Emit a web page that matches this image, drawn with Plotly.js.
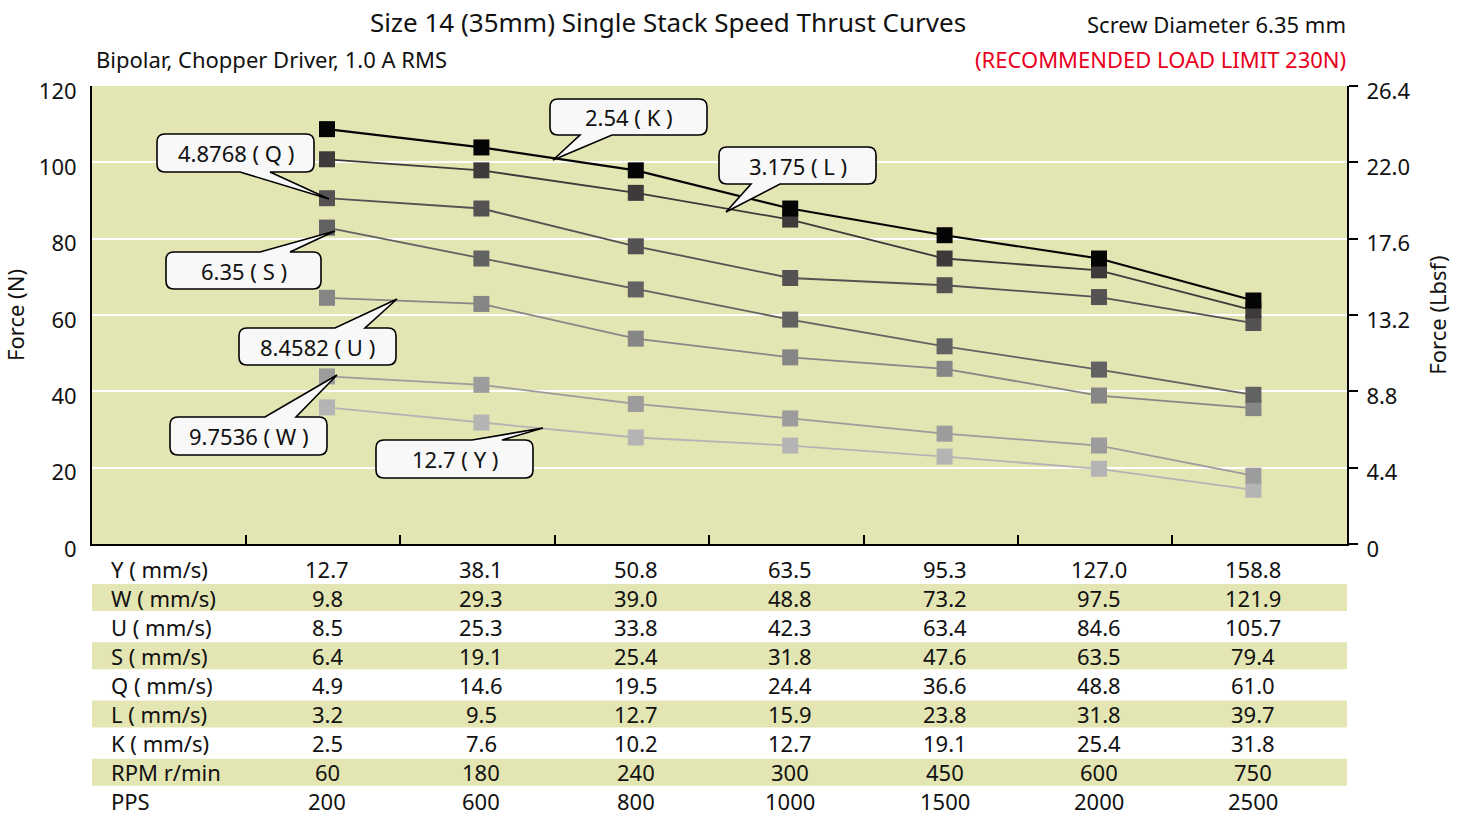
<!DOCTYPE html>
<html>
<head>
<meta charset="utf-8">
<script src="https://cdn.plot.ly/plotly-3.0.1.min.js"></script>
<style>html,body{margin:0;padding:0;background:#fff;}#chart{width:1458px;height:816px;}</style>
</head>
<body>
<div id="chart"></div>
<script>
// ---------- DATA ----------
const pps = [200, 600, 800, 1000, 1500, 2000, 2500];
const rpm = [60, 180, 240, 300, 450, 600, 750];

const speedY = [12.7, 38.1, 50.8, 63.5, 95.3, 127.0, 158.8];
const speedW = [9.8, 29.3, 39.0, 48.8, 73.2, 97.5, 121.9];
const speedU = [8.5, 25.3, 33.8, 42.3, 63.4, 84.6, 105.7];
const speedS = [6.4, 19.1, 25.4, 31.8, 47.6, 63.5, 79.4];
const speedQ = [4.9, 14.6, 19.5, 24.4, 36.6, 48.8, 61.0];
const speedL = [3.2, 9.5, 12.7, 15.9, 23.8, 31.8, 39.7];
const speedK = [2.5, 7.6, 10.2, 12.7, 19.1, 25.4, 31.8];

const forceK = [108.7, 103.9, 97.9, 87.9, 80.9, 74.8, 63.8];
const forceL = [100.8, 97.9, 92.0, 85.0, 74.8, 71.7, 61.2];
const forceQ = [90.6, 87.9, 78.0, 69.7, 67.8, 64.7, 57.9];
const forceS = [82.9, 74.8, 66.7, 58.8, 51.8, 45.7, 39.1];
const forceU = [64.5, 62.9, 53.8, 48.9, 45.9, 38.9, 35.6];
const forceW = [43.9, 41.7, 36.7, 32.9, 28.9, 25.8, 17.9];
const forceY = [35.8, 31.8, 27.9, 25.8, 22.9, 19.7, 14.2];

const seriesNames = ['Y', 'W', 'U', 'S', 'Q', 'L', 'K'];
const leadLabels = ['12.7 ( Y )', '9.7536 ( W )', '8.4582 ( U )', '6.35 ( S )', '4.8768 ( Q )', '3.175 ( L )', '2.54 ( K )'];
const rowLabels = ['Y ( mm/s)', 'W ( mm/s)', 'U ( mm/s)', 'S ( mm/s)', 'Q ( mm/s)', 'L ( mm/s)', 'K ( mm/s)', 'RPM r/min', 'PPS'];
const leftTicks = [0, 20, 40, 60, 80, 100, 120];
const rightTickVals = [0, 4.4, 8.8, 13.2, 17.6, 22.0, 26.4];
const rightTicks = ['0', '4.4', '8.8', '13.2', '17.6', '22.0', '26.4'];

// ---------- STYLE / LAYOUT HELPERS ----------
const FONT = 'Noto Sans, Open Sans, sans-serif';
const FS = 22;
const L0 = 92, R0 = 1347, T0 = 86, B0 = 544;
const PW = R0 - L0, PH = B0 - T0;
const px = x => ((x - L0) / PW).toFixed(5);
const py = y => ((B0 - y) / PH).toFixed(5);
const pxn = x => (x - L0) / PW;
const pyn = y => (B0 - y) / PH;

const xIdx = pps.map((_, i) => i);
const forces = {Y: forceY, W: forceW, U: forceU, S: forceS, Q: forceQ, L: forceL, K: forceK};
const colors = {Y: '#b4b4b4', W: '#9c9c9c', U: '#868686', S: '#626262', Q: '#545252', L: '#3e3a3a', K: '#050505'};
const widths = {Y: 1.8, W: 1.8, U: 1.8, S: 1.8, Q: 1.8, L: 1.8, K: 2.2};

const traces = seriesNames.map(n => ({
  type: 'scatter', mode: 'lines+markers', name: n,
  x: xIdx, y: forces[n],
  line: {color: colors[n], width: widths[n]},
  marker: {symbol: 'square', size: 16, color: colors[n]},
  hoverinfo: 'skip', showlegend: false
}));
traces.push({type: 'scatter', x: [], y: [], yaxis: 'y2', showlegend: false, hoverinfo: 'skip'});

// callout bubbles (pixel geometry)
const callouts = [
  {box: [376, 440, 533, 478], side: 'top', a: 472, b: 502, tip: [543, 428]},
  {box: [170, 417, 327, 455], side: 'top', a: 265, b: 296, tip: [337, 375]},
  {box: [239, 328, 396, 365], side: 'top', a: 335, b: 365, tip: [397, 299]},
  {box: [166, 252, 321, 289], side: 'top', a: 260, b: 290, tip: [335, 231]},
  {box: [157, 134, 314, 172], side: 'bottom', a: 240, b: 270, tip: [329, 199]},
  {box: [719, 147, 876, 184], side: 'bottom', a: 751, b: 780, tip: [726, 212]},
  {box: [550, 99, 707, 135], side: 'bottom', a: 580, b: 612, tip: [553, 160]}
];
function bubble(c) {
  const [x0, y0, x1, y1] = c.box; const r = 8;
  let p = `M${px(x0 + r)},${py(y0)}`;
  if (c.side === 'top') p += ` L${px(c.a)},${py(y0)} L${px(c.tip[0])},${py(c.tip[1])} L${px(c.b)},${py(y0)}`;
  p += ` L${px(x1 - r)},${py(y0)} Q${px(x1)},${py(y0)} ${px(x1)},${py(y0 + r)}`;
  p += ` L${px(x1)},${py(y1 - r)} Q${px(x1)},${py(y1)} ${px(x1 - r)},${py(y1)}`;
  if (c.side === 'bottom') p += ` L${px(c.b)},${py(y1)} L${px(c.tip[0])},${py(c.tip[1])} L${px(c.a)},${py(y1)}`;
  p += ` L${px(x0 + r)},${py(y1)} Q${px(x0)},${py(y1)} ${px(x0)},${py(y1 - r)}`;
  p += ` L${px(x0)},${py(y0 + r)} Q${px(x0)},${py(y0)} ${px(x0 + r)},${py(y0)} Z`;
  return p;
}

const shapes = [];
const annotations = [];

callouts.forEach((c, i) => {
  shapes.push({type: 'path', xref: 'paper', yref: 'paper', path: bubble(c),
    fillcolor: '#f8f8f8', line: {color: '#000', width: 1.6}, layer: 'above'});
  annotations.push({xref: 'paper', yref: 'paper', x: pxn((c.box[0] + c.box[2]) / 2), y: pyn((c.box[1] + c.box[3]) / 2),
    text: leadLabels[i], showarrow: false, xanchor: 'center', yanchor: 'middle',
    font: {family: FONT, size: FS, color: '#111'}});
});

// table below the plot
const tableRows = [speedY, speedW, speedU, speedS, speedQ, speedL, speedK, rpm, pps];
const rowY0 = 568.5, rowStep = 29.1;
tableRows.forEach((row, r) => {
  const cy = rowY0 + r * rowStep;
  if (r % 2 === 1) {
    shapes.push({type: 'rect', xref: 'paper', yref: 'paper', x0: 0, x1: 1,
      y0: pyn(cy - 13.5), y1: pyn(cy + 13.5), fillcolor: '#e3e5b3', line: {width: 0}, layer: 'below'});
  }
  annotations.push({xref: 'paper', yref: 'paper', x: pxn(109), y: pyn(cy), text: rowLabels[r], height: 26,
    showarrow: false, xanchor: 'left', yanchor: 'middle', font: {family: FONT, size: FS, color: '#111'}});
  row.forEach((v, j) => {
    const t = r < 7 ? v.toFixed(1) : String(v);
    annotations.push({xref: 'x', yref: 'paper', x: xIdx[j], y: pyn(cy), text: t, height: 26,
      showarrow: false, xanchor: 'center', yanchor: 'middle', font: {family: FONT, size: FS, color: '#111'}});
  });
});

// header texts
annotations.push({xref: 'paper', yref: 'paper', x: pxn(94), y: pyn(59), text: 'Bipolar, Chopper Driver, 1.0 A RMS',
  showarrow: false, xanchor: 'left', yanchor: 'middle', font: {family: FONT, size: FS, color: '#111'}});
annotations.push({xref: 'paper', yref: 'paper', x: pxn(1348), y: pyn(24), text: 'Screw Diameter 6.35 mm',
  showarrow: false, xanchor: 'right', yanchor: 'middle', font: {family: FONT, size: FS, color: '#111'}});
annotations.push({xref: 'paper', yref: 'paper', x: pxn(1348), y: pyn(59), text: '(RECOMMENDED LOAD LIMIT 230N)',
  showarrow: false, xanchor: 'right', yanchor: 'middle', font: {family: FONT, size: FS, color: '#e8001c'}});

const layout = {
  width: 1458, height: 816,
  margin: {l: L0, r: 1458 - R0, t: T0, b: 816 - B0, pad: 0},
  paper_bgcolor: '#ffffff', plot_bgcolor: '#e3e5b3',
  font: {family: FONT, size: FS, color: '#111'},
  title: {text: 'Size 14 (35mm) Single Stack Speed Thrust Curves', x: pxn(668), xref: 'paper', xanchor: 'center',
    y: 1 - 23 / 816, yref: 'container', yanchor: 'middle', font: {family: FONT, size: 26, color: '#111'}},
  showlegend: false,
  xaxis: {range: [(L0 - 327) / 154.4, (R0 - 327) / 154.4], showgrid: false, zeroline: false,
    showline: true, linecolor: '#000', linewidth: 2,
    tickmode: 'array', tickvals: xIdx.map(i => i - 0.525), ticks: 'inside', ticklen: 9, tickwidth: 2,
    tickcolor: '#000', showticklabels: false, fixedrange: true},
  yaxis: {range: [0, 120], tickmode: 'array', tickvals: leftTicks, showgrid: true, gridcolor: '#ffffff', gridwidth: 2,
    zeroline: false, showline: true, linecolor: '#000', linewidth: 2, ticks: '', ticklabelstandoff: 9, ticklabelshift: 5,
    tickfont: {family: FONT, size: FS, color: '#111'},
    title: {text: 'Force (N)', standoff: 10, font: {family: FONT, size: FS, color: '#111'}}, automargin: false, fixedrange: true},
  yaxis2: {overlaying: 'y', side: 'right', range: [0, 26.4], tickmode: 'array', tickvals: rightTickVals,
    ticktext: rightTicks, showgrid: false, zeroline: false, showline: true, linecolor: '#000', linewidth: 2,
    ticks: 'outside', ticklen: 9, tickwidth: 2, tickcolor: '#000', ticklabelstandoff: 4, ticklabelshift: 5,
    tickfont: {family: FONT, size: FS, color: '#111'},
    title: {text: 'Force (Lbsf)', standoff: 21, font: {family: FONT, size: FS, color: '#111'}}, automargin: false, fixedrange: true},
  shapes: shapes,
  annotations: annotations
};

Plotly.newPlot('chart', traces, layout, {displayModeBar: false, staticPlot: true});
</script>
</body>
</html>
